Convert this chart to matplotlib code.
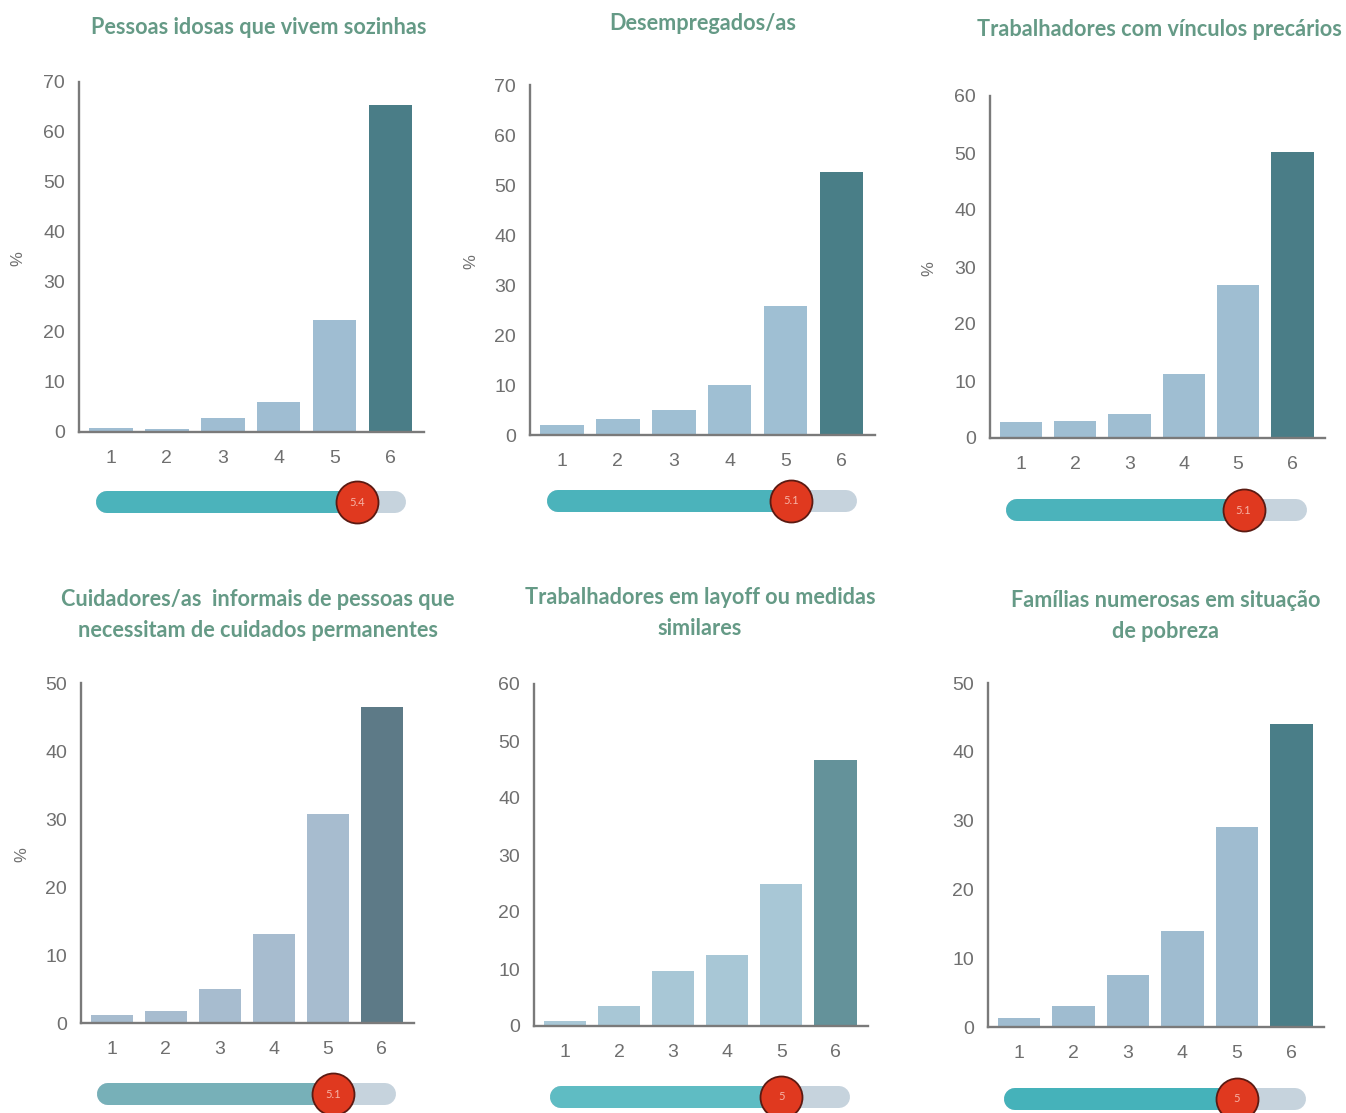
import matplotlib
matplotlib.use("Agg")
import matplotlib.pyplot as plt

# ---- data -------------------------------------------------------------
categorias = [1, 2, 3, 4, 5, 6]

idosos_sozinhos = [0.8, 0.7, 2.9, 6.1, 22.4, 65.4]
desempregados = [2.1, 3.2, 5.0, 10.1, 25.8, 52.7]
vinculos_precarios = [2.8, 3.0, 4.2, 11.3, 26.9, 50.2]
cuidadores_informais = [1.2, 1.7, 5.0, 13.1, 30.7, 46.5]
layoff = [0.9, 3.5, 9.7, 12.4, 25.0, 46.6]
familias_numerosas = [1.3, 3.1, 7.5, 13.9, 29.1, 44.1]

medias = [5.4, 5.1, 5.1, 5.1, 5, 5]

titulos = [
    "Pessoas idosas que vivem sozinhas",
    "Desempregados/as",
    "Trabalhadores com vínculos precários",
    "Cuidadores/as  informais de pessoas que\nnecessitam de cuidados permanentes",
    "Trabalhadores em layoff ou medidas\nsimilares",
    "Famílias numerosas em situação\nde pobreza",
]

y_max = [70, 70, 60, 50, 60, 50]
y_passo = [10, 10, 10, 10, 10, 10]

series = [idosos_sozinhos, desempregados, vinculos_precarios,
          cuidadores_informais, layoff, familias_numerosas]

# ---- layout (pixels on a 1346 x 1113 canvas) ---------------------------
W, H = 1346, 1113
# spine x, right end x, top y, baseline y, slider y, title x, title y, '%' x
layout = [
    dict(l=79, r=424, t=82, b=432, sy=502, tx=259, ty=27, px=18),
    dict(l=530, r=875, t=85, b=435, sy=501, tx=703, ty=24, px=471),
    dict(l=990, r=1325, t=96, b=438, sy=510, tx=1159, ty=29, px=929),
    dict(l=81, r=414, t=683, b=1023, sy=1094, tx=258, ty=615, px=22),
    dict(l=534, r=868, t=684, b=1026, sy=1097, tx=700, ty=613, px=None),
    dict(l=988, r=1324, t=683, b=1027, sy=1099, tx=1166, ty=616, px=None),
]

estilos = [
    dict(claro="#9fbdd2", escuro="#4a7d87", barra="#4bb3bb"),
    dict(claro="#9fbfd3", escuro="#497e87", barra="#4bb3bb"),
    dict(claro="#9fbed2", escuro="#4a7d87", barra="#4bb3bb"),
    dict(claro="#a7bccf", escuro="#5d7a87", barra="#77b0b8"),
    dict(claro="#a8c7d6", escuro="#64929a", barra="#5fbcc3"),
    dict(claro="#9fbcd0", escuro="#4a7e88", barra="#45b2ba"),
]

XLIM = (0.43, 6.6)
TRACK = (0.73, 6.27)        # slider track extent in category units
TRACK_H = 22                # slider thickness in px
THUMB_D = 42                # thumb diameter in px

cor_titulo = "#659a86"
cor_texto = "#6f6f6f"
cor_eixo = "#7a7a7a"

fig = plt.figure(figsize=(W / 100, H / 100), dpi=100)
fig.patch.set_facecolor("white")


def px_axes(l, r, t, b):
    return fig.add_axes([l / W, 1 - b / H, (r - l) / W, (b - t) / H])


for i, (vals, lay, est) in enumerate(zip(series, layout, estilos)):
    ax = px_axes(lay["l"], lay["r"], lay["t"], lay["b"])
    cores = [est["claro"]] * 5 + [est["escuro"]]
    ax.bar(categorias, vals, width=0.78, color=cores, zorder=2)
    ax.set_xlim(*XLIM)
    ax.set_ylim(0, y_max[i])
    ax.set_yticks(range(0, y_max[i] + 1, y_passo[i]))
    ax.set_xticks(categorias)
    for s in ("top", "right"):
        ax.spines[s].set_visible(False)
    for s in ("left", "bottom"):
        ax.spines[s].set_color(cor_eixo)
        ax.spines[s].set_linewidth(1.7)
    ax.spines["left"].set_zorder(3)
    ax.tick_params(axis="both", length=0, labelsize=14, labelcolor=cor_texto)
    ax.tick_params(axis="y", pad=10)
    ax.tick_params(axis="x", pad=13)
    for lab in ax.get_xticklabels() + ax.get_yticklabels():
        lab.set_fontfamily("Liberation Sans")

    if lay["px"] is not None:
        fig.text(lay["px"] / W, 1 - ((lay["t"] + lay["b"]) / 2 + 2) / H, "%",
                 rotation=90, ha="center", va="center", fontsize=12,
                 color=cor_texto, family="Liberation Sans")

    fig.text(lay["tx"] / W, 1 - lay["ty"] / H, titulos[i], ha="center",
             va="center", fontsize=15.6, color=cor_titulo, family="Lato",
             fontweight="bold", linespacing=1.55)

    # slider showing the mean score
    sax = px_axes(lay["l"], lay["r"], lay["sy"] - 30, lay["sy"] + 30)
    sax.set_xlim(*XLIM)
    sax.set_ylim(-30, 30)
    sax.axis("off")
    px_per_unit = (lay["r"] - lay["l"]) / (XLIM[1] - XLIM[0])
    cap = (TRACK_H / 2) / px_per_unit
    lw = TRACK_H * 72 / 100
    sax.plot([TRACK[0] + cap, TRACK[1] - cap], [0, 0], color="#c6d3dd",
             lw=lw, solid_capstyle="round", zorder=1)
    sax.plot([TRACK[0] + cap, medias[i]], [0, 0], color=est["barra"],
             lw=lw, solid_capstyle="round", zorder=2)
    d_pt = THUMB_D * 72 / 100
    sax.scatter([medias[i]], [0], s=d_pt ** 2, color="#e0391f",
                edgecolor="#5b1a12", linewidth=1.3, zorder=3, clip_on=False)
    sax.text(medias[i], 0, f"{medias[i]:g}", ha="center", va="center",
             fontsize=8, color="#f6b3a6", family="Lato", zorder=4)

fig.savefig("out.png", dpi=100, facecolor="white")
